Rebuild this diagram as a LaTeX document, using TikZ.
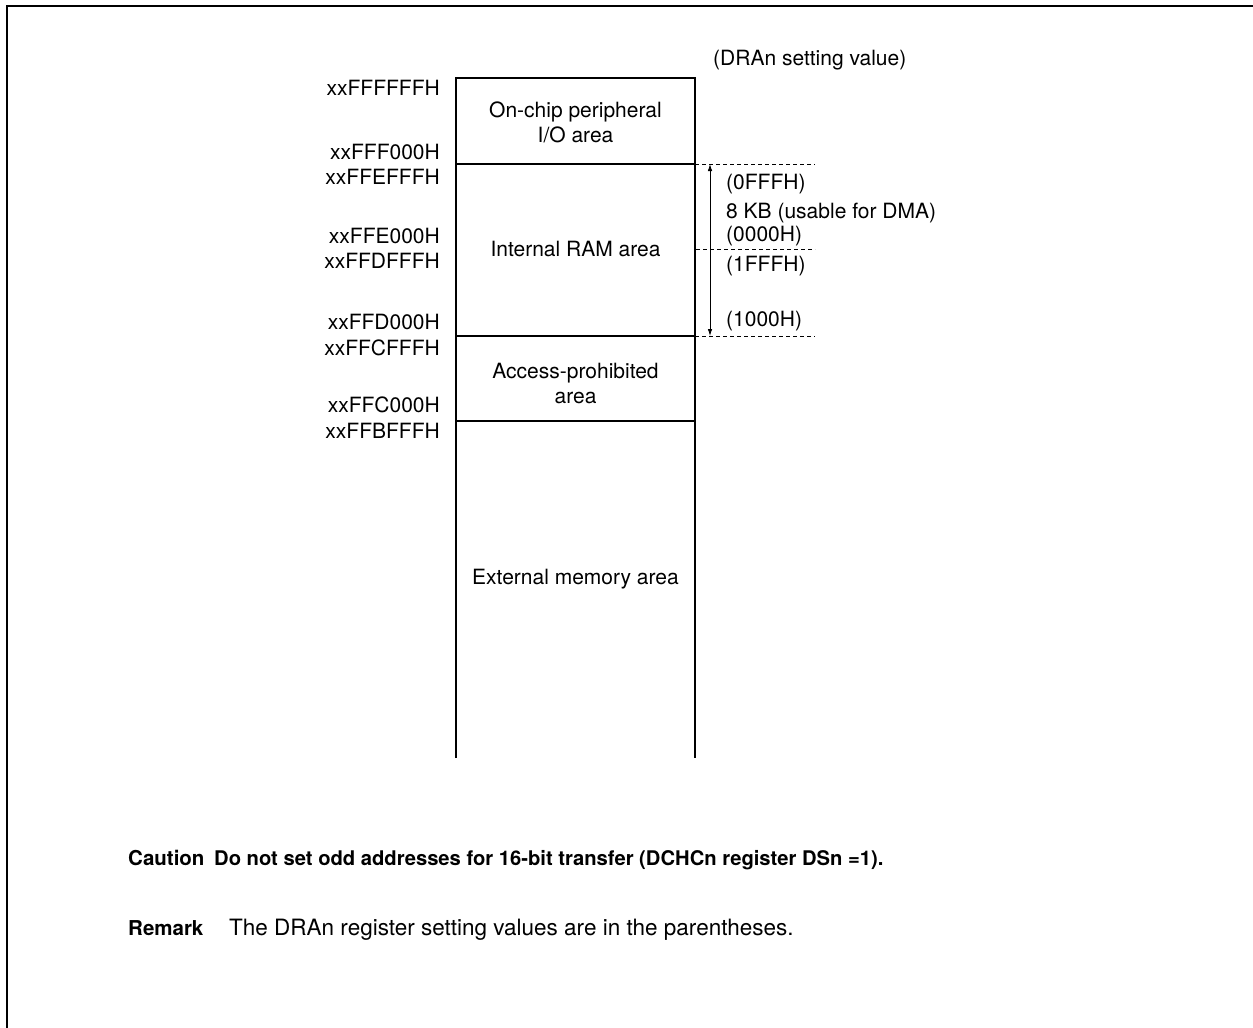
\documentclass[tikz,border=0pt]{standalone}
\usepackage{fontspec}
\setmainfont{TeX Gyre Heros}
\usetikzlibrary{arrows.meta}
\begin{document}
\begin{tikzpicture}[x=1pt,y=-1pt,
  every node/.style={inner sep=0pt, font=\fontsize{21}{25}\selectfont},
  addr/.style={anchor=base east},
  rlab/.style={anchor=base west},
  atext/.style={anchor=base},
  note/.style={anchor=base west},
  boxline/.style={line width=2.2pt},
  divline/.style={line width=1.1pt},
  dashline/.style={line width=0.9pt, dash pattern=on 4pt off 3pt},
  dimarrow/.style={line width=0.8pt, {Latex[length=7pt,width=4.5pt]}-{Latex[length=7pt,width=4.5pt]}}
]
\useasboundingbox (0,0) rectangle (1253,1028);
% frame
\draw[line width=2.6pt] (7,1030) -- (7,6) -- (1255,6);
% memory box
\coordinate (bl) at (456,758);
\coordinate (tl) at (456,78);
\coordinate (tr) at (695,78);
\coordinate (br) at (695,758);
\draw[boxline] (bl) -- (tl) -- (tr) -- (br);
\coordinate (d1l) at (456,164); \coordinate (d1r) at (695,164);
\coordinate (d2l) at (456,336); \coordinate (d2r) at (695,336);
\coordinate (d3l) at (456,421); \coordinate (d3r) at (695,421);
\draw[divline] (d1l) -- (d1r);
\draw[divline] (d2l) -- (d2r);
\draw[divline] (d3l) -- (d3r);
% dashed marks
\coordinate (e1) at (815,164);
\coordinate (m2l) at (696,249); \coordinate (e2) at (815,249);
\coordinate (e3) at (815,336);
\draw[dashline] (d1r) -- (e1);
\draw[dashline] (m2l) -- (e2);
\draw[dashline] (d2r) -- (e3);
\coordinate (at) at (710,164);
\coordinate (ab) at (710,336);
\draw[dimarrow] (at) -- (ab);
% area texts
\node[atext] (io1) at (575.5,117.5) {On-chip peripheral};
\node[atext] (io2) at (575.5,142.5) {I/O area};
\node[atext] (ram) at (575.5,256.5) {Internal RAM area};
\node[atext] (ap1) at (575.5,378.5) {Access-prohibited};
\node[atext] (ap2) at (575.5,403.5) {area};
\node[atext] (ext) at (575.5,584.5) {External memory area};
% addresses
\node[addr] (a1) at (440,95.5) {xxFFFFFFH};
\node[addr] (a2) at (440,159.5) {xxFFF000H};
\node[addr] (a3) at (440,184.5) {xxFFEFFFH};
\node[addr] (a4) at (440,243.5) {xxFFE000H};
\node[addr] (a5) at (440,268.5) {xxFFDFFFH};
\node[addr] (a6) at (440,329.5) {xxFFD000H};
\node[addr] (a7) at (440,355.5) {xxFFCFFFH};
\node[addr] (a8) at (440,412.5) {xxFFC000H};
\node[addr] (a9) at (440,438.5) {xxFFBFFFH};
% right labels
\node[rlab] (hdr) at (713,65.5) {(DRAn setting value)};
\node[rlab] (r1) at (726,189) {(0FFFH)};
\node[rlab] (r2) at (726,218) {8 KB (usable for DMA)};
\node[rlab] (r3) at (726,241.5) {(0000H)};
\node[rlab] (r4) at (726,271.5) {(1FFFH)};
\node[rlab] (r5) at (726,326.5) {(1000H)};
% notes
\node[note, font=\fontsize{20.5}{25}\selectfont\bfseries] (c1) at (128,865.5) {Caution};
\node[note, font=\fontsize{20.2}{25}\selectfont\bfseries] (c2) at (214,865.5) {Do not set odd addresses for 16-bit transfer (DCHCn register DSn =1).};
\node[note, font=\fontsize{20.5}{25}\selectfont\bfseries] (n1) at (128,935.5) {Remark};
\node[note, font=\fontsize{22.5}{25}\selectfont] (n2) at (229,935.5) {The DRAn register setting values are in the parentheses.};
\end{tikzpicture}
\end{document}
